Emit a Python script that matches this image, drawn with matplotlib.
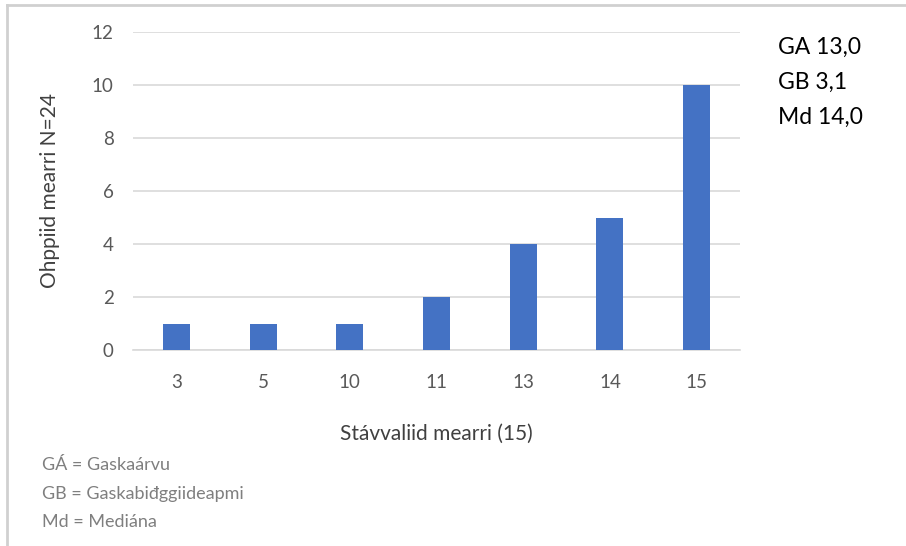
import matplotlib.pyplot as plt
from matplotlib.lines import Line2D

plt.rcParams['font.family'] = ['Lato', 'DejaVu Sans']

# Data
categories = ["3", "5", "10", "11", "13", "14", "15"]
counts = [1, 1, 1, 2, 4, 5, 10]
yticks = [0, 2, 4, 6, 8, 10, 12]
stats_lines = ["GA 13,0", "GB 3,1", "Md 14,0"]
notes = ["GÁ = Gaskaárvu", "GB = Gaskabiđggiideapmi", "Md = Mediána"]

W, H = 906, 546
fig = plt.figure(figsize=(W / 100, H / 100), dpi=100)
ax = fig.add_axes([133 / W, 1 - 350 / H, (740 - 133) / W, (350 - 32) / H])

x = range(len(categories))
ax.bar(x, counts, width=0.31, color="#4472c4", zorder=3)
ax.set_xlim(-0.5, len(categories) - 0.5)
ax.set_ylim(0, 12)
ax.set_yticks(yticks)
ax.set_xticks(list(x))
ax.set_xticklabels(categories)
ax.yaxis.grid(True, color="#d9d9d9", linewidth=1.2, zorder=0)
for s in ["top", "right", "left"]:
    ax.spines[s].set_visible(False)
ax.spines["bottom"].set_color("#d9d9d9")
ax.spines["bottom"].set_linewidth(1.2)
ax.tick_params(axis="both", length=0, labelsize=13.5, colors="#595959")
ax.tick_params(axis="x", pad=17)
ax.tick_params(axis="y", pad=14)

ax.set_xlabel("Stávvaliid mearri (15)", fontsize=15, color="#404040", labelpad=24)
ax.set_ylabel("Ohppiid mearri N=24", fontsize=15, color="#404040", labelpad=23)

# statistics on the right
for i, t in enumerate(stats_lines):
    fig.text(778 / W, 1 - (47 + 35 * i) / H, t, fontsize=16.5, color="#000000", va="center")

# notes bottom left
for i, t in enumerate(notes):
    fig.text(42 / W, 1 - (465 + 28.5 * i) / H, t, fontsize=13, color="#7f7f7f", va="center")

# grey frame (top and left)
fig.add_artist(Line2D([7 / W, 1], [1 - 5 / H, 1 - 5 / H], color="#d0d0d0", linewidth=2))
fig.add_artist(Line2D([7 / W, 7 / W], [0, 1 - 5 / H], color="#d0d0d0", linewidth=2))

plt.savefig("out.png", dpi=100)
